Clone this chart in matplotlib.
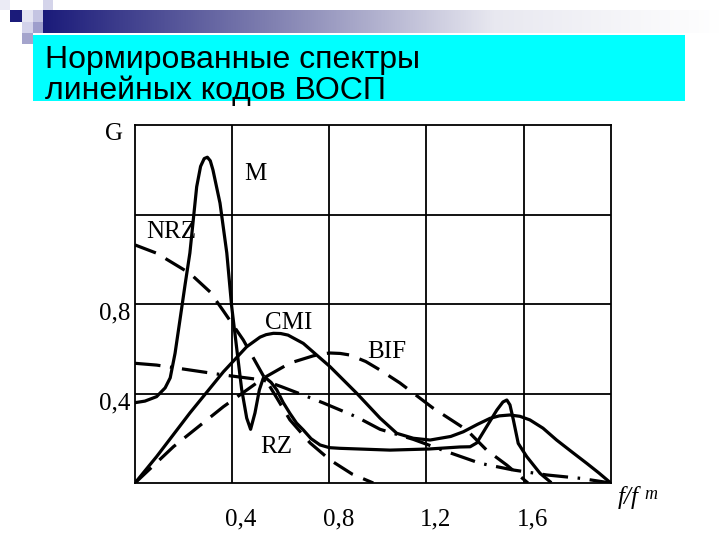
import numpy as np
import matplotlib
matplotlib.use("Agg")
import matplotlib.pyplot as plt
from matplotlib.patches import Rectangle
from matplotlib.transforms import ScaledTranslation

# spectra (x = f/fm, y = G)
m_x = [0, 0.041, 0.089, 0.124, 0.145, 0.165, 0.185, 0.206, 0.226, 0.254, 0.270,
       0.285, 0.298, 0.310, 0.321, 0.350, 0.378, 0.398, 0.419, 0.439, 0.460,
       0.476, 0.494, 0.512, 0.528, 0.539, 0.560, 0.584, 0.610, 0.638, 0.665,
       0.693, 0.725, 0.762, 0.800, 0.844, 1.050, 1.211, 1.338, 1.380, 1.407,
       1.448, 1.490, 1.515, 1.531, 1.544, 1.558, 1.578, 1.613, 1.668, 1.709]
m_y = [0.359, 0.366, 0.386, 0.425, 0.470, 0.580, 0.728, 0.885, 1.028, 1.324, 1.415,
       1.450, 1.456, 1.440, 1.399, 1.251, 1.028, 0.790, 0.600, 0.420, 0.290,
       0.240, 0.313, 0.416, 0.468, 0.469, 0.450, 0.416, 0.360, 0.311, 0.268,
       0.237, 0.198, 0.170, 0.158, 0.155, 0.147, 0.152, 0.161, 0.162, 0.179,
       0.252, 0.326, 0.362, 0.371, 0.349, 0.282, 0.177, 0.118, 0.043, 0.006]

cmi_x = [0, 0.089, 0.226, 0.364, 0.460, 0.515, 0.540, 0.570, 0.600, 0.630, 0.693,
         0.803, 0.913, 1.009, 1.078, 1.146, 1.215, 1.300, 1.352, 1.410, 1.462,
         1.500, 1.544, 1.585, 1.626, 1.680, 1.736, 1.800, 1.860, 1.910, 1.959]
cmi_y = [0, 0.118, 0.313, 0.497, 0.609, 0.652, 0.663, 0.669, 0.668, 0.661, 0.624,
         0.520, 0.401, 0.290, 0.222, 0.200, 0.192, 0.208, 0.229, 0.262, 0.289,
         0.300, 0.304, 0.298, 0.282, 0.245, 0.192, 0.138, 0.088, 0.045, 0.0]

bif_x = [0, 0.158, 0.364, 0.528, 0.638, 0.733, 0.770, 0.803, 0.845, 0.885, 0.950,
         1.009, 1.091, 1.227, 1.366, 1.448, 1.531, 1.618]
bif_y = [0, 0.162, 0.341, 0.468, 0.536, 0.568, 0.577, 0.581, 0.579, 0.572, 0.543,
         0.505, 0.447, 0.335, 0.237, 0.147, 0.080, 0.0]

nrz_x = [0, 0.089, 0.226, 0.309, 0.364, 0.446, 0.528, 0.584, 0.638, 0.721, 0.803,
         0.894, 0.981]
nrz_y = [1.064, 1.027, 0.937, 0.854, 0.769, 0.639, 0.480, 0.380, 0.282, 0.179, 0.103,
         0.040, 0.0]

rz_x = [0, 0.089, 0.226, 0.364, 0.528, 0.604, 0.693, 0.775, 0.913, 1.009, 1.146,
        1.284, 1.421, 1.558, 1.695, 1.833, 1.959]
rz_y = [0.535, 0.527, 0.505, 0.483, 0.460, 0.430, 0.393, 0.358, 0.295, 0.240, 0.195,
        0.140, 0.088, 0.058, 0.036, 0.021, 0.0]

grid_x = [0.4, 0.8, 1.2, 1.6]
grid_y = [0.4, 0.8, 1.2]
xtick_labels = ["0,4", "0,8", "1,2", "1,6"]
ytick_labels = ["0,4", "0,8", ""]

title_lines = ["Нормированные спектры", "линейных кодов ВОСП"]

SERIF = "Liberation Serif"


def main():
    fig = plt.figure(figsize=(7.2, 5.4), dpi=100)
    W, H = 720.0, 540.0

    def box(x0, y0, x1, y1, color):
        fig.patches.append(Rectangle((x0 / W, 1 - y1 / H), (x1 - x0) / W, (y1 - y0) / H,
                                     transform=fig.transFigure, color=color, lw=0, zorder=0))

    # gradient bar at the top
    grad = np.linspace(0, 1, 256)[None, :]
    cmap = matplotlib.colors.LinearSegmentedColormap.from_list(
        "bar", ["#1b1b7a", "#7f7fb0", "#e8e8f0", "#ffffff"])
    bar_ax = fig.add_axes([43 / W, 1 - 33 / H, (720 - 43) / W, 23 / H])
    bar_ax.imshow(grad, aspect="auto", cmap=cmap, extent=[0, 1, 0, 1])
    bar_ax.axis("off")

    # decorative squares
    box(0, 0, 10, 10, "#ebebf5")
    box(10, 10, 22, 22, "#1b1b7a")
    box(22, 10, 33, 22, "#e4e4f2")
    box(33, 10, 43, 22, "#c4c4e2")
    box(43, 0, 53, 10, "#d4d4ea")
    box(22, 22, 33, 33, "#d2d2ea")
    box(33, 22, 43, 33, "#9e9ecc")
    box(22, 33, 33, 44, "#a4a4cc")

    # title box
    box(33, 35, 685, 101, "#00ffff")
    fig.text(45 / W, 1 - 68 / H, title_lines[0], fontsize=23, family="Liberation Sans",
             va="baseline", ha="left")
    fig.text(45 / W, 1 - 99 / H, title_lines[1], fontsize=23, family="Liberation Sans",
             va="baseline", ha="left")

    ax = fig.add_axes([135 / W, 1 - 483 / H, 476 / W, 358 / H])
    ax.set_xlim(0, 1.96)
    ax.set_ylim(0, 1.6)

    ax.set_xticks(grid_x)
    ax.set_xticklabels(xtick_labels)
    ax.set_yticks(grid_y)
    ax.set_yticklabels(ytick_labels)
    ax.tick_params(length=0, labelsize=18, pad=18)
    ax.tick_params(axis="y", pad=3)
    for lbl in ax.get_xticklabels() + ax.get_yticklabels():
        lbl.set_family(SERIF)
    for lbl in ax.get_xticklabels():
        lbl.set_transform(lbl.get_transform() + ScaledTranslation(0.09, 0, fig.dpi_scale_trans))
    for lbl in ax.get_yticklabels():
        lbl.set_transform(lbl.get_transform() + ScaledTranslation(0, -0.07, fig.dpi_scale_trans))

    ax.grid(True, color="black", lw=1.3)
    for s in ax.spines.values():
        s.set_linewidth(1.3)

    lw = 2.3
    ax.plot(m_x, m_y, color="black", lw=lw, solid_joinstyle="round")
    ax.plot(cmi_x, cmi_y, color="black", lw=lw, solid_joinstyle="round")
    ax.plot(bif_x, bif_y, color="black", lw=lw, dashes=(7, 3.5))
    ax.plot(nrz_x, nrz_y, color="black", lw=lw, dashes=(7, 3.5))
    ax.plot(rz_x, rz_y, color="black", lw=lw, dashes=(8, 3, 0.8, 3))

    kw = dict(family=SERIF, fontsize=18, ha="center", va="center")
    ax.text(-0.0865, 1.562, "G", clip_on=False, **kw)
    ax.text(0.494, 1.383, "M", **kw)
    ax.text(0.148, 1.122, "NRZ", **kw)
    ax.text(0.634, 0.713, "CMI", **kw)
    ax.text(1.038, 0.585, "BIF", **kw)
    ax.text(0.581, 0.163, "RZ", **kw)
    ax.text(2.030, -0.065, "f/f", family=SERIF, style="italic", fontsize=18,
            ha="center", va="center", clip_on=False)
    ax.text(2.125, -0.052, "m", family=SERIF, style="italic", fontsize=13,
            ha="center", va="center", clip_on=False)

    fig.savefig("out.png", dpi=100)


if __name__ == "__main__":
    main()
